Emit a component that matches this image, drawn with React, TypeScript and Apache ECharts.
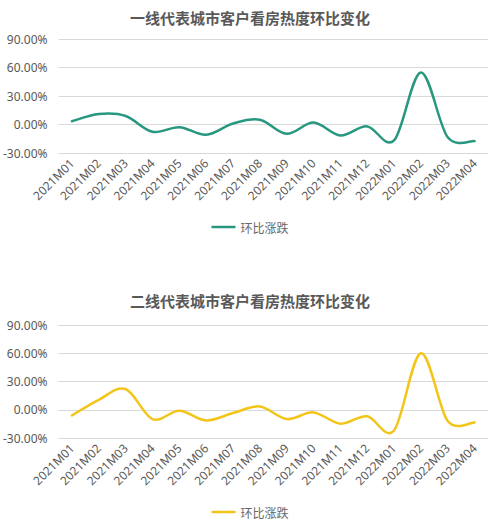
import React, { useEffect, useRef } from "react";
import * as echarts from "echarts";

const categories = [
  "2021M01", "2021M02", "2021M03", "2021M04", "2021M05", "2021M06", "2021M07", "2021M08",
  "2021M09", "2021M10", "2021M11", "2021M12", "2022M01", "2022M02", "2022M03", "2022M04",
];
const tier1Values = [3.5, 11, 9, -7.7, -2.8, -10.8, 1, 5, -9.8, 2, -11.6, -2, -16.8, 54.7, -13.5, -17.5];
const tier2Values = [-6, 10.6, 22, -9.9, -1, -11.3, -3.5, 3.5, -9.9, -2.8, -14.8, -7, -22, 60, -12, -13.5];
const yTicks = { min: -30, max: 90, interval: 30 };
const seriesName = "环比涨跌";
const title1 = "一线代表城市客户看房热度环比变化";
const title2 = "二线代表城市客户看房热度环比变化";

type Cfg = {
  title: string;
  values: number[];
  color: string;
  height: number;
  titleTop: number;
  gridTop: number;
  gridBottom: number;
  legendTop: number;
};

function dist(a: number[], b: number[]) {
  return Math.hypot(a[0] - b[0], a[1] - b[1]);
}

// Excel-like smoothed path: Catmull-Rom tangents, control length clamped to half the segment.
function smoothPath(pts: number[][]) {
  const n = pts.length;
  let d = `M${pts[0][0]},${pts[0][1]}`;
  for (let i = 0; i < n - 1; i++) {
    const p0 = pts[Math.max(0, i - 1)];
    const p1 = pts[i];
    const p2 = pts[i + 1];
    const p3 = pts[Math.min(n - 1, i + 2)];
    const d12 = dist(p1, p2);
    const d02 = dist(p0, p2);
    const d13 = dist(p1, p3);
    let c1 = [p1[0], p1[1]];
    if (d02 > 0) {
      const l = Math.min(d02 / 6, d12 / 2);
      c1 = [p1[0] + ((p2[0] - p0[0]) / d02) * l, p1[1] + ((p2[1] - p0[1]) / d02) * l];
    }
    let c2 = [p2[0], p2[1]];
    if (d13 > 0) {
      const l = Math.min(d13 / 6, d12 / 2);
      c2 = [p2[0] - ((p3[0] - p1[0]) / d13) * l, p2[1] - ((p3[1] - p1[1]) / d13) * l];
    }
    d += ` C${c1[0]},${c1[1]} ${c2[0]},${c2[1]} ${p2[0]},${p2[1]}`;
  }
  return d;
}

function Chart({ cfg }: { cfg: Cfg }) {
  const ref = useRef<HTMLDivElement>(null);
  useEffect(() => {
    if (!ref.current) return;
    const chart = echarts.init(ref.current, undefined, { renderer: "svg" });
    const data = cfg.values.map((v, i) => [i, v]);
    chart.setOption({
      animation: false,
      title: {
        text: cfg.title,
        left: "center",
        top: cfg.titleTop,
        textStyle: {
          fontSize: 15,
          fontWeight: "bold",
          color: "#595959",
          fontFamily: "Noto Sans CJK SC",
        },
      },
      legend: {
        data: [seriesName],
        top: cfg.legendTop,
        left: "center",
        icon: "rect",
        itemWidth: 24,
        itemHeight: 2.5,
        itemGap: 6,
        textStyle: { fontSize: 12, color: "#666666", fontFamily: "Noto Sans CJK SC" },
      },
      grid: { left: 58, right: 12, top: cfg.gridTop, bottom: cfg.gridBottom },
      xAxis: {
        type: "category",
        data: categories,
        boundaryGap: true,
        axisLine: { show: false },
        axisTick: { show: false },
        axisLabel: {
          rotate: 45,
          interval: 0,
          fontSize: 12,
          color: "#595959",
          margin: 8,
          fontFamily: "Noto Sans",
        },
      },
      yAxis: {
        type: "value",
        min: yTicks.min,
        max: yTicks.max,
        interval: yTicks.interval,
        axisLine: { show: false },
        axisTick: { show: false },
        axisLabel: {
          fontSize: 12,
          color: "#595959",
          margin: 11,
          fontFamily: "Noto Sans",
          formatter: (v: number) => `${v.toFixed(2)}%`,
        },
        splitLine: { lineStyle: { color: "#d9d9d9", width: 1 } },
      },
      series: [
        {
          name: seriesName,
          type: "custom",
          data,
          encode: { x: 0, y: 1 },
          itemStyle: { color: cfg.color },
          renderItem: (params: any, api: any) => {
            if (params.dataIndex !== 0) return null;
            const pts = data.map((d) => api.coord(d));
            return {
              type: "path",
              shape: { pathData: smoothPath(pts) },
              style: { fill: "none", stroke: cfg.color, lineWidth: 2.5, lineJoin: "round", lineCap: "round" },
            };
          },
        },
      ],
    });
    return () => chart.dispose();
  }, [cfg]);
  return <div ref={ref} style={{ width: 500, height: cfg.height }} />;
}

const cfg1: Cfg = {
  title: title1,
  values: tier1Values,
  color: "#27977f",
  height: 265,
  titleTop: 5,
  gridTop: 39,
  gridBottom: 112,
  legendTop: 216,
};
const cfg2: Cfg = {
  title: title2,
  values: tier2Values,
  color: "#f2c518",
  height: 264,
  titleTop: 23,
  gridTop: 60,
  gridBottom: 91,
  legendTop: 236,
};

export default function App() {
  return (
    <div style={{ position: "absolute", left: 0, top: 0, width: 500, height: 529, background: "#fff" }}>
      <Chart cfg={cfg1} />
      <Chart cfg={cfg2} />
    </div>
  );
}
